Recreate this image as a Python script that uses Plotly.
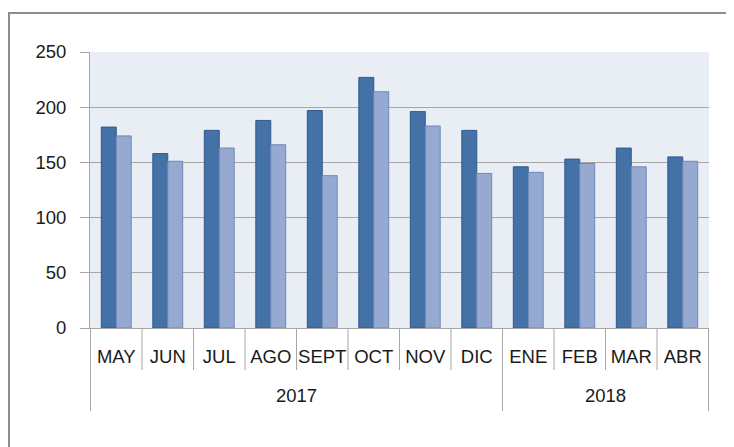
import plotly.graph_objects as go

years = ["2017"] * 8 + ["2018"] * 4
months = ["MAY", "JUN", "JUL", "AGO", "SEPT", "OCT", "NOV", "DIC", "ENE", "FEB", "MAR", "ABR"]
serie_a = [182, 158, 179, 188, 197, 227, 196, 179, 146, 153, 163, 155]
serie_b = [174, 151, 163, 166, 138, 214, 183, 140, 141, 149, 146, 151]
y_ticks = [0, 50, 100, 150, 200, 250]

FONT = "Liberation Sans, Arial, sans-serif"
GRAY = "#A6A6A6"
PLOT_H = 276  # px height of plot area

fig = go.Figure()
fig.add_trace(go.Bar(
    x=months, y=serie_a, name="A",
    marker=dict(color="#4472A6", line=dict(color="#2F5A8E", width=1)),
))
fig.add_trace(go.Bar(
    x=months, y=serie_b, name="B",
    marker=dict(color="#95A9D1", line=dict(color="#6F88B8", width=1)),
))

shapes = []
# month separators (category boundaries)
for i in range(1, len(months)):
    if years[i] != years[i - 1]:
        continue
    shapes.append(dict(type="line", xref="x", yref="paper",
                       x0=i - 0.5, x1=i - 0.5, y0=0, y1=-42 / PLOT_H,
                       line=dict(color=GRAY, width=1)))
# year dividers (group boundaries incl. edges)
bounds = [0] + [i for i in range(1, len(years)) if years[i] != years[i - 1]] + [len(years)]
for b in bounds:
    shapes.append(dict(type="line", xref="x", yref="paper",
                       x0=b - 0.5, x1=b - 0.5, y0=0, y1=-83 / PLOT_H,
                       line=dict(color=GRAY, width=1)))
# outer frame
shapes.append(dict(type="rect", xref="paper", yref="paper",
                   x0=-0.1309, x1=1.0388, y0=-0.48, y1=1.1413,
                   line=dict(color="#8C8C8C", width=2),
                   fillcolor="rgba(0,0,0,0)", layer="below"))

annotations = []
for s, e in zip(bounds[:-1], bounds[1:]):
    annotations.append(dict(xref="x", yref="paper", x=(s + e - 1) / 2, y=-67 / PLOT_H,
                            text=years[s], showarrow=False, yanchor="middle",
                            font=dict(family=FONT, size=18.5, color="#1A1A1A")))

fig.update_layout(
    width=726, height=439,
    margin=dict(l=82, r=25, t=44, b=119),
    paper_bgcolor="white",
    plot_bgcolor="#E9EDF4",
    barmode="group", bargap=0.42, bargroupgap=0,
    showlegend=False,
    font=dict(family=FONT, size=18.5, color="#1A1A1A"),
    xaxis=dict(
        type="category",
        automargin=False,
        tickangle=0,
        showline=True, linecolor=GRAY, linewidth=1,
        ticks="",
        ticklabelstandoff=12,
        showgrid=False,
        tickfont=dict(family=FONT, size=18.5),
    ),
    yaxis=dict(
        automargin=False,
        range=[0, 250], tickvals=y_ticks,
        showline=True, linecolor=GRAY, linewidth=1,
        ticks="outside", ticklen=9, tickcolor=GRAY, tickwidth=1,
        ticklabelstandoff=10,
        showgrid=True, gridcolor=GRAY, gridwidth=1,
        zeroline=False,
        tickfont=dict(family=FONT, size=18.5),
    ),
    shapes=shapes,
    annotations=annotations,
)

fig.write_html("out.html")
